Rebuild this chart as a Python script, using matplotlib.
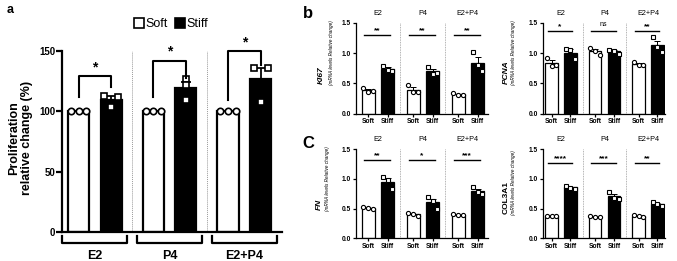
import numpy as np
import matplotlib
matplotlib.use("Agg")
import matplotlib.pyplot as plt
from matplotlib.patches import Patch

plt.rcParams['font.family'] = ['Liberation Sans', 'DejaVu Sans']

# ---- data ----
groups = ["E2", "P4", "E2+P4"]
conditions = ["Soft", "Stiff"]

prolif_soft = [[100, 100, 100], [100, 100, 100], [100, 100, 100]]
prolif_stiff = [[113, 104, 112], [127, 122, 109], [136, 108, 136]]
prolif_stars = ["*", "*", "*"]

ki67_soft = [[0.43, 0.35, 0.38], [0.47, 0.36, 0.35], [0.34, 0.31, 0.30]]
ki67_stiff = [[0.79, 0.72, 0.70], [0.77, 0.65, 0.67], [1.01, 0.80, 0.70]]
ki67_stars = ["**", "**", "**"]

pcna_soft = [[0.92, 0.78, 0.80], [1.09, 1.04, 0.97], [0.85, 0.81, 0.80]]
pcna_stiff = [[1.07, 1.05, 0.90], [1.05, 1.04, 0.99], [1.27, 1.10, 1.01]]
pcna_stars = ["*", "ns", "**"]

fn_soft = [[0.52, 0.51, 0.50], [0.42, 0.40, 0.38], [0.40, 0.39, 0.39]]
fn_stiff = [[1.03, 0.98, 0.82], [0.70, 0.62, 0.50], [0.86, 0.77, 0.75]]
fn_stars = ["**", "*", "***"]

col_soft = [[0.38, 0.38, 0.37], [0.37, 0.36, 0.35], [0.39, 0.37, 0.35]]
col_stiff = [[0.88, 0.85, 0.83], [0.78, 0.68, 0.66], [0.61, 0.57, 0.55]]
col_stars = ["****", "***", "**"]

W, H = 677, 261
GAP = 2.3
OFFS = [-0.24, 0.0, 0.24]


def px_box(left, right, top, bottom):
    return [left / W, 1 - bottom / H, (right - left) / W, (bottom - top) / H]


def sem(v):
    v = np.asarray(v, float)
    return v.std(ddof=1) / np.sqrt(len(v))


def draw_bars(ax, soft, stiff, width, lw, ms, mew, cap, offs_stiff=None):
    xs = np.arange(len(groups)) * GAP
    for vals, x0, fc, mk in [(soft, xs, "white", "o"), (stiff, xs + 1, "black", "s")]:
        means = [np.mean(v) for v in vals]
        errs = [sem(v) for v in vals]
        ax.bar(x0, means, width, color=fc, edgecolor="black", linewidth=lw, zorder=2)
        ax.errorbar(x0, means, yerr=[np.zeros(3), errs], fmt="none", ecolor="black",
                    elinewidth=lw * 0.8, capsize=cap, capthick=lw * 0.8, zorder=3)
        for i, v in enumerate(vals):
            offs = OFFS
            if mk == "s" and offs_stiff is not None:
                offs = offs_stiff[i]
            ax.plot(x0[i] + np.array(offs) * width / 0.66, v, mk, mfc="white", mec="black",
                    ms=ms, mew=mew, zorder=4, clip_on=False)
    return xs


fig = plt.figure(figsize=(W / 100, H / 100), dpi=100)

# ---------------- panel a ----------------
ax = fig.add_axes(px_box(62, 282, 51, 232))
xs = draw_bars(ax, prolif_soft, prolif_stiff, 0.65, 1.6, 4.6, 1.2, 3.5,
               offs_stiff=[[-0.22, 0, 0.22], [0, 0, 0], [-0.22, 0, 0.22]])
ax.set_xlim(-0.51, 6.26)
ax.set_ylim(0, 150)
ax.set_yticks([0, 50, 100, 150])
ax.set_xticks([])
for s in ["top", "right"]:
    ax.spines[s].set_visible(False)
for s in ["left", "bottom"]:
    ax.spines[s].set_linewidth(1.6)
ax.tick_params(axis="y", length=4, width=1.6, labelsize=7, pad=1)
for t in ax.get_yticklabels():
    t.set_fontweight("bold")
for g in range(1, 3):
    ax.axvline(g * GAP - 0.65, color="#9a9a9a", lw=0.7, ls=(0, (1, 1)), zorder=1)

brackets = [(129, 112, 120), (142, 112, 128), (150, 109, 138)]
for g, (top, lo_l, lo_r) in enumerate(brackets):
    x0, x1 = xs[g], xs[g] + 1
    ax.plot([x0, x0, x1, x1], [lo_l, top, top, lo_r], color="black", lw=1.5,
            clip_on=False, zorder=5)
    ax.text((x0 + x1) / 2, top + 1.5, prolif_stars[g], ha="center", va="bottom",
            fontsize=10, fontweight="bold")
    # group bracket under the axis
    c = xs[g] + 0.5
    ax.plot([c - 1.0, c - 1.0, c + 1.0, c + 1.0], [-3.5, -9, -9, -3.5], color="black",
            lw=1.6, clip_on=False)
    ax.text(c, -19.5, groups[g], ha="center", va="center", fontsize=9, fontweight="bold")

fig.text(21 / W, 1 - 138 / H, "Proliferation\nrelative change (%)", rotation=90,
         ha="center", va="center", fontsize=9, fontweight="bold", multialignment="center",
         linespacing=1.1)
handles = [Patch(facecolor="white", edgecolor="black", lw=1.2),
           Patch(facecolor="black", edgecolor="black", lw=1.2)]
fig.legend(handles, conditions, loc="center", bbox_to_anchor=(171 / W, 1 - 24 / H), ncol=2,
           frameon=False, fontsize=9, handlelength=0.8, handleheight=0.8,
           handletextpad=0.15, columnspacing=0.5, borderpad=0)
fig.text(10 / W, 1 - 10 / H, "a", fontsize=9, fontweight="bold", ha="center", va="center")

# ---------------- panels b / c ----------------
small = [
    (ki67_soft, ki67_stiff, ki67_stars, "KI67", "italic", (356, 488, 22.7, 113.6), 1.30, (321, 331, 84)),
    (pcna_soft, pcna_stiff, pcna_stars, "PCNA", "italic", (543, 665, 22.7, 113.6), 1.36, (506, 514, 84)),
    (fn_soft, fn_stiff, fn_stars, "FN", "italic", (356, 488, 149, 238.3), 1.32, (319, 328, 210)),
    (col_soft, col_stiff, col_stars, "COL3A1", "normal", (543, 665, 149, 238.3), 1.26, (506, 514, 214)),
]
for soft, stiff, stars, gene, style, (l, r, t, b), sig_y, (gx, mx, yb) in small:
    ax = fig.add_axes(px_box(l, r, t, b))
    xs = draw_bars(ax, soft, stiff, 0.67, 0.9, 3.0, 0.8, 2)
    ax.set_xlim(-0.62 if l < 400 else -0.45, 6.13 if l < 400 else 6.0)
    ax.set_ylim(0, 1.5)
    ax.set_yticks([0, 0.5, 1.0, 1.5])
    ax.set_yticklabels(["0.0", "0.5", "1.0", "1.5"])
    pos = np.sort(np.concatenate([xs, xs + 1]))
    ax.set_xticks(pos)
    ax.set_xticklabels(conditions * 3)
    for s in ["top", "right"]:
        ax.spines[s].set_visible(False)
    for s in ["left", "bottom"]:
        ax.spines[s].set_linewidth(0.9)
    ax.tick_params(length=2.5, width=0.9, labelsize=4.8, pad=1)
    for tl in ax.get_xticklabels() + ax.get_yticklabels():
        tl.set_fontweight("bold")
    for g in range(1, 3):
        ax.axvline(g * GAP - 0.65, color="#9a9a9a", lw=0.6, ls=(0, (1, 1)), zorder=1)
    for g in range(3):
        ax.plot([xs[g] - 0.2, xs[g] + 1.1], [sig_y, sig_y], color="black", lw=1.0,
                clip_on=False)
        if stars[g] == "ns":
            ax.text(xs[g] + 0.45, sig_y + 0.05, "ns", ha="center", va="bottom", fontsize=5)
        else:
            ax.text(xs[g] + 0.45, sig_y + 0.01, stars[g], ha="center", va="bottom",
                    fontsize=6, fontweight="bold")
        ax.text(xs[g] + 0.5, 1.66, groups[g], ha="center", va="center", fontsize=5.2,
                clip_on=False)
    fig.text(gx / W, 1 - yb / H, gene, rotation=90, ha="center", va="bottom",
             fontsize=6, fontweight="bold", fontstyle=style)
    fig.text(mx / W, 1 - (yb + 1) / H, "(mRNA levels Relative change)", rotation=90,
             ha="center", va="bottom", fontsize=3.3, fontstyle="italic")

fig.text(308 / W, 1 - 14 / H, "b", fontsize=12, fontweight="bold", ha="center", va="center")
fig.text(308 / W, 1 - 143 / H, "C", fontsize=12, fontweight="bold", ha="center", va="center")

fig.savefig("out.png", dpi=100, facecolor="white")
